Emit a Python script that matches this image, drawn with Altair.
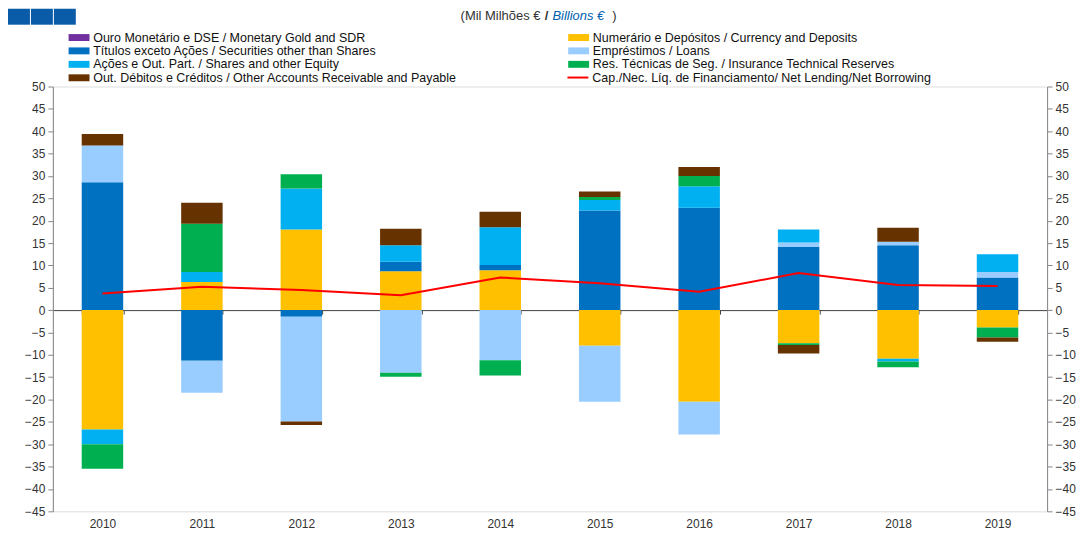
import altair as alt
import pandas as pd

years = [str(y) for y in range(2010, 2020)]
categories = [
    "Ouro Monetário e DSE / Monetary Gold and SDR",
    "Numerário e Depósitos / Currency and Deposits",
    "Títulos exceto Ações / Securities other than Shares",
    "Empréstimos / Loans",
    "Ações e Out. Part. / Shares and other Equity",
    "Res. Técnicas de Seg. / Insurance Technical Reserves",
    "Out. Débitos e Créditos / Other Accounts Receivable and Payable",
]
colors = ["#7030A0", "#FFC000", "#0070C0", "#99CCFF", "#00B0F0", "#00B050", "#663300"]

gold = [0, 0, 0, 0, 0, 0, 0, 0, 0, 0]
currency = [-26.7, 6.3, 18.0, 8.7, 8.9, -8.0, -20.5, -7.4, -10.9, -3.9]
securities = [28.6, -11.3, -1.5, 2.1, 1.2, 22.3, 22.9, 14.1, 14.5, 7.3]
loans = [8.2, -7.2, -23.4, -14.0, -11.2, -12.5, -7.3, 1.0, 0.8, 1.2]
shares = [-3.3, 2.2, 9.2, 3.7, 8.4, 2.3, 4.8, 2.9, -0.6, 4.0]
insurance = [-5.5, 10.8, 3.2, -0.9, -3.4, 0.7, 2.3, -0.4, -1.3, -2.2]
other = [2.6, 4.7, -0.8, 3.7, 3.5, 1.2, 2.0, -1.9, 3.1, -1.0]
line_name = "Cap./Nec. Líq. de Financiamento/ Net Lending/Net Borrowing"
net = [3.7, 5.2, 4.5, 3.3, 7.3, 6.0, 4.1, 8.3, 5.6, 5.4]
y_ticks = list(range(-45, 55, 5))

series = [gold, currency, securities, loans, shares, insurance, other]
rows = []
for i, (cat, vals) in enumerate(zip(categories, series)):
    for yr, v in zip(years, vals):
        rows.append({"year": yr, "cat": cat, "idx": i, "value": v})
df = pd.DataFrame(rows)
df_line = pd.DataFrame({"year": years, "net": net, "s": [line_name] * len(years)})

W, H = 997, 426
FONT = "Liberation Sans"
zero_off = -(H * 45 / 95)

xscale = alt.Scale(domain=years, paddingInner=0.583, paddingOuter=0.29)
yscale = alt.Scale(domain=[-45, 50], nice=False, zero=False)

bars = alt.Chart(df).mark_bar().encode(
    x=alt.X("year:O", scale=xscale, axis=alt.Axis(
        title=None, orient="bottom", offset=zero_off, labelAngle=0,
        domainColor="#404040", domainWidth=1, tickColor="#404040", tickSize=4,
        tickBand="extent", labelPadding=205, labelFont=FONT, labelFontSize=12,
        labelColor="#333333")),
    y=alt.Y("value:Q", stack="zero", scale=yscale, axis=alt.Axis(
        title=None, orient="left", values=y_ticks, domainColor="#868686",
        tickColor="#868686", tickSize=5, labelPadding=3, labelFont=FONT,
        labelFontSize=12, labelColor="#333333", grid=False)),
    color=alt.Color("cat:N", scale=alt.Scale(domain=categories, range=colors), legend=alt.Legend(
        title=None, orient="none", legendX=20, legendY=-55.5, columns=2, direction="horizontal",
        columnPadding=110, rowPadding=0.5, symbolType="M-2,-0.66H2V0.66H-2Z", symbolSize=110,
        symbolStrokeWidth=0, labelFont=FONT, labelFontSize=12.5, labelColor="#111111",
        labelOffset=8, labelLimit=600, padding=0)),
    order=alt.Order("idx:Q", sort="ascending"),
)

line = alt.Chart(df_line).mark_line(strokeWidth=2).encode(
    x=alt.X("year:O", scale=xscale),
    y=alt.Y("net:Q", scale=yscale, axis=alt.Axis(
        title=None, orient="right", values=y_ticks, domainColor="#868686",
        tickColor="#868686", tickSize=5, labelPadding=3, labelFont=FONT,
        labelFontSize=12, labelColor="#333333", grid=False)),
    stroke=alt.Stroke("s:N", scale=alt.Scale(domain=[line_name], range=["#FF0000"]), legend=alt.Legend(
        title=None, orient="none", legendX=520, legendY=-15.5, symbolType="M-2,0H2",
        symbolSize=110, symbolStrokeWidth=2, labelFont=FONT, labelFontSize=12.5,
        labelColor="#111111", labelOffset=8, labelLimit=600, padding=0)),
)

one = pd.DataFrame({"a": [0]})
sub1 = alt.Chart(one).mark_text(align="right", baseline="middle", font=FONT, fontSize=13, color="#333333").encode(
    x=alt.value(489), y=alt.value(-71), text=alt.value("(Mil Milhões €"))
sub2 = alt.Chart(one).mark_text(align="center", baseline="middle", font=FONT, fontSize=13, fontWeight="bold", color="#333333").encode(
    x=alt.value(495), y=alt.value(-71), text=alt.value("/"))
sub3 = alt.Chart(one).mark_text(align="left", baseline="middle", font=FONT, fontSize=13, fontStyle="italic", color="#0061B0").encode(
    x=alt.value(501), y=alt.value(-71), text=alt.value("Billions €"))
sub4 = alt.Chart(one).mark_text(align="left", baseline="middle", font=FONT, fontSize=13, color="#333333").encode(
    x=alt.value(561), y=alt.value(-71), text=alt.value(")"))

sq = []
for x0 in [-45, -22, 1]:
    sq.append(alt.Chart(one).mark_rect(color="#0A5CA8").encode(
        x=alt.value(x0), x2=alt.value(x0 + 22), y=alt.value(-78), y2=alt.value(-62)))

chart = alt.layer(bars, line, sub1, sub2, sub3, sub4, *sq).resolve_scale(
    y="shared", x="shared"
).resolve_axis(y="independent").properties(
    width=W, height=H,
    autosize=alt.AutoSizeParams(type="none"),
    padding={"left": 45, "top": 78, "right": 31, "bottom": 22},
).configure_view(stroke=None).configure(background="white")

chart.save("out.html", embed_options={"renderer": "svg", "actions": False})
